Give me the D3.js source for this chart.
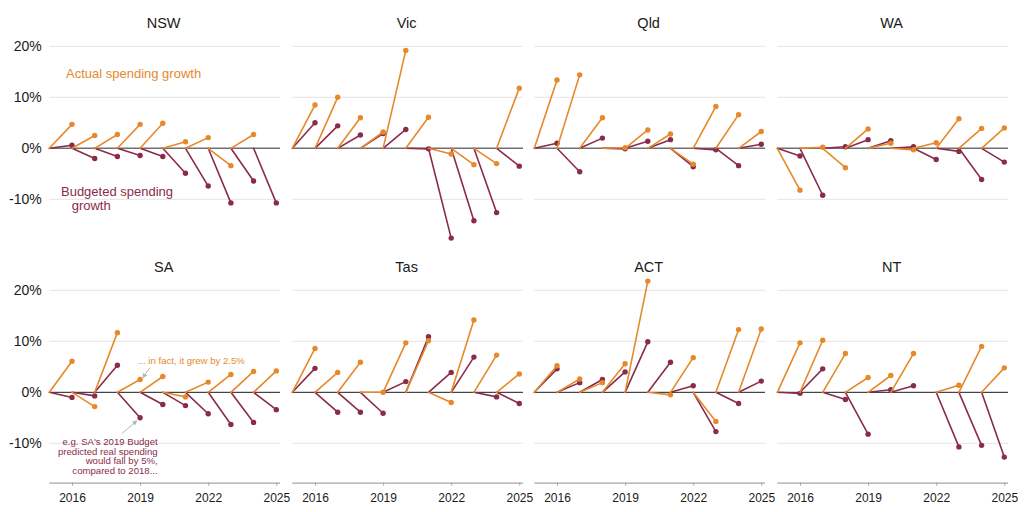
<!DOCTYPE html>
<html>
<head>
<meta charset="utf-8">
<script src="https://cdn.jsdelivr.net/npm/d3@7"></script>
<style>
  html, body { margin: 0; padding: 0; background: #fff; }
  svg { display: block; font-family: "Liberation Sans", Arial, sans-serif; }
</style>
</head>
<body>
<svg id="chart" width="1024" height="512"></svg>
<script>
// ---- Data (real spending growth, %) ----
const years = [2016, 2017, 2018, 2019, 2020, 2021, 2022, 2023, 2024, 2025];
const states = ["NSW", "Vic", "Qld", "WA", "SA", "Tas", "ACT", "NT"];

const actualNSW = [4.7, 2.5, 2.7, 4.7, 4.9, 1.3, 2.1, -3.4, 2.7, null];
const budgetNSW = [0.6, -2.0, -1.6, -1.4, -1.6, -4.9, -7.4, -10.7, -6.4, -10.7];

const actualVic = [8.5, 10.0, 6.0, 3.2, 19.2, 6.1, -1.1, -3.2, -3.0, 11.8];
const budgetVic = [5.0, 4.4, 2.6, 2.9, 3.7, -0.1, -17.6, -14.2, -12.6, -3.5];

const actualQld = [13.4, 14.4, 6.0, 0.1, 3.6, 2.8, -3.1, 8.2, 6.6, 3.3];
const budgetQld = [1.0, -4.6, 2.0, -0.1, 1.4, 1.7, -3.6, -0.3, -3.4, 0.8];

const actualWA = [-8.2, 0.2, -3.8, 3.8, 1.0, -0.3, 1.1, 5.8, 3.9, 4.0];
const budgetWA = [-1.5, -9.2, 0.3, 1.7, 1.5, 0.3, -2.2, -0.6, -6.1, -2.7];

const actualSA = [6.1, -2.8, 11.7, 2.5, 3.1, -0.9, 2.0, 3.5, 4.1, 4.2];
const budgetSA = [-1.0, -0.7, 5.3, -5.0, -2.4, -2.6, -4.2, -6.3, -5.9, -3.4];

const actualTas = [8.6, 3.9, 5.9, 0.0, 9.7, 10.1, -2.0, 14.2, 7.3, 3.6];
const budgetTas = [4.7, -3.9, -3.9, -4.1, 2.1, 10.9, 3.9, 6.9, -0.9, -2.2];

const actualACT = [5.2, 2.6, 1.9, 5.6, 21.8, -0.5, 6.8, -5.7, 12.3, 12.4];
const budgetACT = [4.6, 1.9, 2.5, 4.0, 9.9, 5.9, 1.3, -7.7, -2.2, 2.2];

const actualNT = [9.7, 10.2, 7.6, 2.9, 3.3, 7.6, null, 1.4, 9.0, 4.8];
const budgetNT = [-0.2, 4.6, -1.4, -8.2, 0.5, 1.3, null, -10.7, -10.4, -12.7];

const yTicks = [20, 10, 0, -10];
const xTicks = [2016, 2019, 2022, 2025];

const actualByState = { NSW: actualNSW, Vic: actualVic, Qld: actualQld, WA: actualWA,
                        SA: actualSA, Tas: actualTas, ACT: actualACT, NT: actualNT };
const budgetByState = { NSW: budgetNSW, Vic: budgetVic, Qld: budgetQld, WA: budgetWA,
                        SA: budgetSA, Tas: budgetTas, ACT: budgetACT, NT: budgetNT };

// ---- Layout ----
const ORANGE = "#E6892A";
const MAROON = "#8B2B4A";
const svg = d3.select("#chart");

const colX = [49.3, 292.3, 534.3, 777.3];
const rowY = [36.1, 280.1];
const plotH = 202.5;
const gridW = 230.7;

const x = d3.scaleLinear().domain([2015, 2025]).range([0, 227]);
const y = d3.scaleLinear().domain([-17.7, 22]).range([plotH, 0]);

states.forEach((st, i) => {
  const row = Math.floor(i / 4), col = i % 4;
  const g = svg.append("g").attr("transform", `translate(${colX[col]},${rowY[row]})`);

  // title
  g.append("text")
    .attr("x", gridW / 2 - 1)
    .attr("y", row === 0 ? 28 - rowY[0] : 272 - rowY[1])
    .attr("text-anchor", "middle")
    .attr("font-size", "14.5px")
    .attr("fill", "#1a1a1a")
    .text(st);

  // gridlines
  g.selectAll("line.grid")
    .data(yTicks.filter(d => d !== 0))
    .join("line")
    .attr("class", "grid")
    .attr("x1", 0).attr("x2", gridW)
    .attr("y1", d => y(d)).attr("y2", d => y(d))
    .attr("stroke", "#e4e4e4").attr("stroke-width", 1);

  // y labels on first column
  if (col === 0) {
    g.selectAll("text.ylab")
      .data(yTicks)
      .join("text")
      .attr("class", "ylab")
      .attr("x", -7.5)
      .attr("y", d => y(d))
      .attr("dy", "0.36em")
      .attr("text-anchor", "end")
      .attr("font-size", "14px")
      .attr("fill", "#1a1a1a")
      .text(d => d + "%");
  }

  // zero line
  g.append("line")
    .attr("x1", 0).attr("x2", gridW)
    .attr("y1", y(0)).attr("y2", y(0))
    .attr("stroke", row === 0 ? "#707070" : "#1a1a1a")
    .attr("stroke-width", row === 0 ? 1.5 : 1);

  // bottom axis on second row
  if (row === 1) {
    const ax = g.append("g")
      .attr("transform", `translate(0,${plotH})`)
      .call(d3.axisBottom(x).tickValues(xTicks).tickFormat(d3.format("d"))
            .tickSize(3).tickSizeOuter(0).tickPadding(8));
    ax.select(".domain").attr("stroke", "#a6a6a6").attr("stroke-width", 1.3)
      .attr("d", `M0,0.5H${gridW}`);
    ax.selectAll(".tick line").attr("stroke", "#a6a6a6");
    ax.selectAll(".tick text").attr("font-size", "12px").attr("fill", "#1a1a1a")
      .attr("font-family", "Liberation Sans, Arial, sans-serif");
  }

  const series = [
    { vals: budgetByState[st], color: MAROON },
    { vals: actualByState[st], color: ORANGE }
  ];
  series.forEach(s => {
    const pts = years.map((yr, k) => ({ yr, v: s.vals[k] })).filter(d => d.v !== null);
    g.selectAll(null)
      .data(pts)
      .join("line")
      .attr("x1", d => x(d.yr - 1)).attr("y1", y(0))
      .attr("x2", d => x(d.yr)).attr("y2", d => y(d.v))
      .attr("stroke", s.color).attr("stroke-width", 1.6)
      .attr("stroke-linecap", "round");
    g.selectAll(null)
      .data(pts)
      .join("circle")
      .attr("cx", d => x(d.yr)).attr("cy", d => y(d.v))
      .attr("r", 2.7)
      .attr("fill", s.color);
  });

  // annotations
  if (st === "NSW") {
    g.append("text").attr("x", 66 - colX[0]).attr("y", 78 - rowY[0])
      .attr("font-size", "13px").attr("fill", ORANGE).text("Actual spending growth");
    g.append("text").attr("x", 61 - colX[0]).attr("y", 196 - rowY[0])
      .attr("font-size", "13px").attr("fill", MAROON).text("Budgeted spending");
    g.append("text").attr("x", 71.7 - colX[0]).attr("y", 210 - rowY[0])
      .attr("font-size", "13px").attr("fill", MAROON).text("growth");
  }
  if (st === "SA") {
    const ox = colX[0], oy = rowY[1];
    const defs = svg.select("defs").empty() ? svg.append("defs") : svg.select("defs");
    defs.append("marker").attr("id", "arr")
      .attr("viewBox", "0 0 10 10").attr("refX", 8).attr("refY", 5)
      .attr("markerWidth", 5).attr("markerHeight", 5).attr("orient", "auto")
      .append("path").attr("d", "M0,0L10,5L0,10Z").attr("fill", "#b5b5b5");
    g.append("line")
      .attr("x1", 150 - ox).attr("y1", 367.5 - oy)
      .attr("x2", 143 - ox).attr("y2", 377.5 - oy)
      .attr("stroke", "#b5b5b5").attr("stroke-width", 1).attr("marker-end", "url(#arr)");
    g.append("line")
      .attr("x1", 122 - ox).attr("y1", 433.5 - oy)
      .attr("x2", 136.5 - ox).attr("y2", 421 - oy)
      .attr("stroke", "#b5b5b5").attr("stroke-width", 1).attr("marker-end", "url(#arr)");
    g.append("text").attr("x", 137.7 - ox).attr("y", 364.5 - oy)
      .attr("font-size", "9.6px").attr("fill", ORANGE).text("... in fact, it grew by 2.5%");
    const lines = ["e.g. SA's 2019 Budget", "predicted real spending",
                   "would fall by 5%,", "compared to 2018..."];
    g.selectAll(null).data(lines).join("text")
      .attr("x", 157.7 - ox)
      .attr("y", (d, k) => 445 - oy + k * 9.6)
      .attr("text-anchor", "end")
      .attr("font-size", "9.6px").attr("fill", MAROON)
      .text(d => d);
  }
});
</script>
</body>
</html>
